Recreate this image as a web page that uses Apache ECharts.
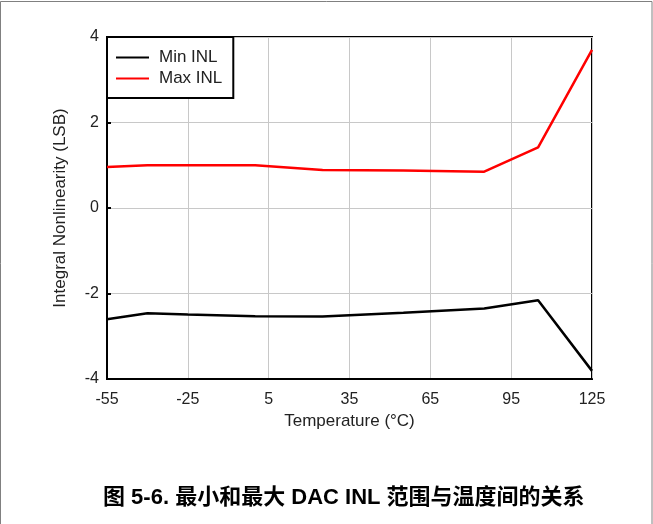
<!DOCTYPE html>
<html>
<head>
<meta charset="utf-8">
<script src="https://cdn.jsdelivr.net/npm/echarts@6/dist/echarts.min.js"></script>
<style>
  html, body { margin: 0; padding: 0; background: #fff; }
  #chart { width: 653px; height: 524px; }
</style>
</head>
<body>
<div id="chart"></div>
<script>
// Temperature sweep (°C) and INL extremes (LSB)
const temperatures = [-55, -40, -25, 0, 25, 55, 85, 105, 125];
const minINL = [-2.60, -2.46, -2.49, -2.53, -2.54, -2.45, -2.35, -2.16, -3.81];
const maxINL = [0.96, 1.00, 1.00, 1.00, 0.89, 0.88, 0.85, 1.42, 3.70];

const xTicks = [-55, -25, 5, 35, 65, 95, 125];
const yTicks = [-4, -2, 0, 2, 4];

const pairs = (xs, ys) => xs.map((x, i) => [x, ys[i]]);
const font = 'Liberation Sans, Arial, sans-serif';
const textColor = '#222';

const chart = echarts.init(document.getElementById('chart'), null, { renderer: 'canvas' });
chart.setOption({
  animation: false,
  backgroundColor: '#fff',
  grid: {
    left: 107, right: 61, top: 37, bottom: 145,
    show: true, borderColor: '#000', borderWidth: 2, backgroundColor: 'transparent'
  },
  legend: {
    orient: 'vertical',
    left: 107, top: 37,
    padding: [12, 11, 11, 9],
    itemGap: 4,
    itemWidth: 33, itemHeight: 2,
    icon: 'rect',
    backgroundColor: '#fff',
    borderColor: '#000', borderWidth: 2,
    textStyle: { fontFamily: font, fontSize: 17, color: textColor, padding: [0, 0, 0, 5] },
    data: ['Min INL', 'Max INL']
  },
  xAxis: {
    type: 'value',
    min: xTicks[0], max: xTicks[xTicks.length - 1], interval: 30,
    name: 'Temperature (°C)',
    nameLocation: 'middle', nameGap: 34,
    nameTextStyle: { fontFamily: font, fontSize: 17, color: textColor },
    axisLine: { show: true, onZero: false, lineStyle: { color: '#000', width: 2 } },
    axisTick: { show: false },
    axisLabel: { fontFamily: font, fontSize: 16, color: textColor, margin: 13 },
    splitLine: { show: true, lineStyle: { color: '#c8c8c8', width: 1 } }
  },
  yAxis: {
    type: 'value',
    min: yTicks[0], max: yTicks[yTicks.length - 1], interval: 2,
    name: 'Integral Nonlinearity (LSB)',
    nameLocation: 'middle', nameGap: 38,
    nameTextStyle: { fontFamily: font, fontSize: 17, color: textColor },
    axisLine: { show: true, onZero: false, lineStyle: { color: '#000', width: 2 } },
    axisTick: { show: true, inside: true, length: 4, lineStyle: { color: '#000', width: 2 } },
    axisLabel: { fontFamily: font, fontSize: 16, color: textColor, margin: 8 },
    splitLine: { show: true, lineStyle: { color: '#c8c8c8', width: 1 } }
  },
  series: [
    {
      name: 'Min INL', type: 'line', data: pairs(temperatures, minINL),
      showSymbol: false, symbol: 'none',
      lineStyle: { color: '#000', width: 2.5 }, itemStyle: { color: '#000' }
    },
    {
      name: 'Max INL', type: 'line', data: pairs(temperatures, maxINL),
      showSymbol: false, symbol: 'none',
      lineStyle: { color: '#ff0000', width: 2.5 }, itemStyle: { color: '#ff0000' }
    }
  ],
  graphic: [
    {
      type: 'rect', silent: true, z: 0,
      shape: { x: 0.5, y: 1.5, width: 651.5, height: 530 },
      style: { fill: 'none', stroke: '#808080', lineWidth: 1 }
    },
    {
      type: 'text', left: 103, top: 487,
      style: {
        text: '图 5-6. 最小和最大 DAC INL 范围与温度间的关系',
        font: 'bold 22px "Liberation Sans", "Noto Sans CJK SC", sans-serif',
        fill: '#000'
      }
    }
  ]
});
</script>
</body>
</html>
